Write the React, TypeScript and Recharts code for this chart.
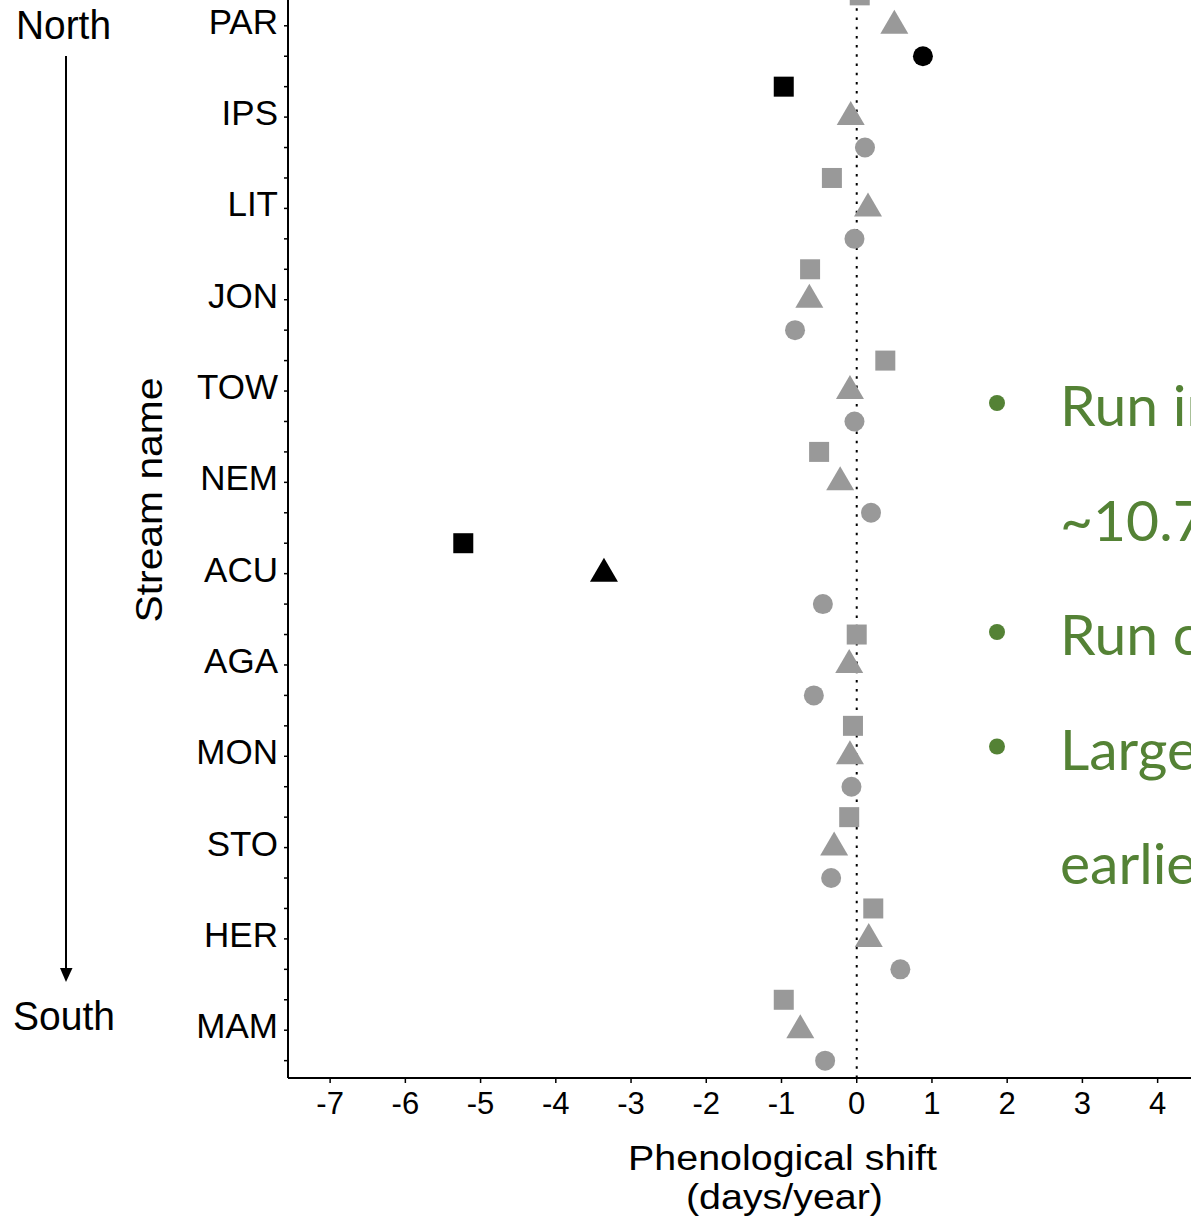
import React from "react";
import { ScatterChart, Scatter, XAxis, YAxis, ReferenceLine } from "recharts";

// streams from north (top) to south (bottom)
const streams = ["PAR", "IPS", "LIT", "JON", "TOW", "NEM", "ACU", "AGA", "MON", "STO", "HER", "MAM"];

// phenological shift (days/year) per metric
const squareShift = [0.04, -0.97, -0.33, -0.62, 0.38, -0.5, -5.23, 0.0, -0.05, -0.1, 0.22, -0.97];
const triangleShift = [0.5, -0.08, 0.15, -0.63, -0.09, -0.22, -3.36, -0.1, -0.09, -0.3, 0.16, -0.75];
const circleShift = [0.88, 0.11, -0.03, -0.82, -0.03, 0.19, -0.45, -0.57, -0.07, -0.34, 0.58, -0.42];

// 1 = significant (drawn black)
const squareSig = [0, 1, 0, 0, 0, 0, 1, 0, 0, 0, 0, 0];
const triangleSig = [0, 0, 0, 0, 0, 0, 1, 0, 0, 0, 0, 0];
const circleSig = [1, 0, 0, 0, 0, 0, 0, 0, 0, 0, 0, 0];

const xTicks = [-7, -6, -5, -4, -3, -2, -1, 0, 1, 2, 3, 4];

const noteLines = ["Run initiation", "~10.7 days earlier", "Run conclusion", "Larger shifts", "earlier"];
const noteBullets = [0, 2, 3];

const FONT = "'Liberation Sans', Arial, Helvetica, sans-serif";
const GREY = "#999999";

const rowCount = streams.length * 3;
const rowTicks = Array.from({ length: rowCount }, (_, i) => i);

const buildSeries = (shift: number[], sig: number[], offset: number) =>
  streams.map((name, i) => ({ name, shift: shift[i], row: i * 3 + offset, sig: sig[i] === 1 }));

const squareData = buildSeries(squareShift, squareSig, 0);
const triangleData = buildSeries(triangleShift, triangleSig, 1);
const circleData = buildSeries(circleShift, circleSig, 2);

const fillOf = (p: any) => ((p.payload ? p.payload.sig : p.sig) ? "#000" : GREY);

const SquareDot = (p: any) => (
  <rect x={p.cx - 10} y={p.cy - 10} width={20} height={20} fill={fillOf(p)} />
);
const TriangleDot = (p: any) => (
  <polygon
    points={`${p.cx},${p.cy - 16} ${p.cx + 14},${p.cy + 8} ${p.cx - 14},${p.cy + 8}`}
    fill={fillOf(p)}
  />
);
const CircleDot = (p: any) => <circle cx={p.cx} cy={p.cy} r={10} fill={fillOf(p)} />;

const YTick = (p: any) => {
  const v = p.payload.value;
  if (v % 3 !== 1) return <g />;
  return (
    <text x={p.x} y={p.y} dy={8} textAnchor="end" fontSize={35} fontFamily={FONT} fill="#000">
      {streams[(v - 1) / 3]}
    </text>
  );
};

const XTick = (p: any) => (
  <text x={p.x} y={p.y} dy={22} textAnchor="middle" fontSize={31} fontFamily={FONT} fill="#000">
    {p.payload.value}
  </text>
);

export default function App() {
  return (
    <div
      style={{
        position: "absolute",
        left: 0,
        top: 0,
        width: 1191,
        height: 1220,
        overflow: "hidden",
        background: "#fff",
      }}
    >
      <div style={{ position: "absolute", left: 0, top: -40 }}>
        <ScatterChart width={1278} height={1258} margin={{ top: 18, right: 0, left: 0, bottom: 0 }}>
          <XAxis
            type="number"
            dataKey="shift"
            domain={[-7.56, 5.6]}
            ticks={xTicks}
            interval={0}
            allowDataOverflow
            height={140}
            tickSize={5}
            tickMargin={9}
            tick={<XTick />}
            axisLine={{ stroke: "#000", strokeWidth: 2 }}
            tickLine={{ stroke: "#000", strokeWidth: 1.5 }}
          />
          <YAxis
            type="number"
            dataKey="row"
            domain={[-0.57, rowCount - 1 + 0.57]}
            reversed
            ticks={rowTicks}
            interval={0}
            allowDataOverflow
            width={288}
            tickSize={4}
            tickMargin={6}
            tick={<YTick />}
            axisLine={{ stroke: "#000", strokeWidth: 2 }}
            tickLine={{ stroke: "#000", strokeWidth: 1.5 }}
          />
          <ReferenceLine x={0} stroke="#000" strokeWidth={2} strokeDasharray="2.5 6.7" />
          <Scatter data={squareData} shape={SquareDot} isAnimationActive={false} />
          <Scatter data={triangleData} shape={TriangleDot} isAnimationActive={false} />
          <Scatter data={circleData} shape={CircleDot} isAnimationActive={false} />
        </ScatterChart>
      </div>

      <svg
        width={1191}
        height={1220}
        style={{ position: "absolute", left: 0, top: 0, pointerEvents: "none" }}
      >
        {/* North-South arrow */}
        <text x={16} y={39} fontSize={40} fontFamily={FONT} textLength={95} lengthAdjust="spacingAndGlyphs">
          North
        </text>
        <line x1={66} y1={56} x2={66} y2={970} stroke="#000" strokeWidth={2} />
        <polygon points="60,968 72.5,968 66,982" fill="#000" />
        <text x={13} y={1030} fontSize={40} fontFamily={FONT} textLength={102} lengthAdjust="spacingAndGlyphs">
          South
        </text>

        {/* axis titles */}
        <text
          x={0}
          y={0}
          transform="translate(162,500) rotate(-90)"
          textAnchor="middle"
          fontSize={37}
          fontFamily={FONT}
          textLength={245}
          lengthAdjust="spacingAndGlyphs"
        >
          Stream name
        </text>
        <text x={628} y={1170} fontSize={35} fontFamily={FONT} textLength={309} lengthAdjust="spacingAndGlyphs">
          Phenological shift
        </text>
        <text x={686} y={1209} fontSize={35} fontFamily={FONT} textLength={197} lengthAdjust="spacingAndGlyphs">
          (days/year)
        </text>

        {/* slide notes, cut off by the right edge as in the source slide */}
        {noteLines.map((t, i) => (
          <text key={t} x={1060} y={426 + i * 114.5} fontSize={57} fontFamily="Lato, 'Open Sans', sans-serif" fill="#548235">
            {t}
          </text>
        ))}
        {noteBullets.map((b) => (
          <circle key={b} cx={997} cy={426 + b * 114.5 - 23} r={8} fill="#548235" />
        ))}
      </svg>
    </div>
  );
}
